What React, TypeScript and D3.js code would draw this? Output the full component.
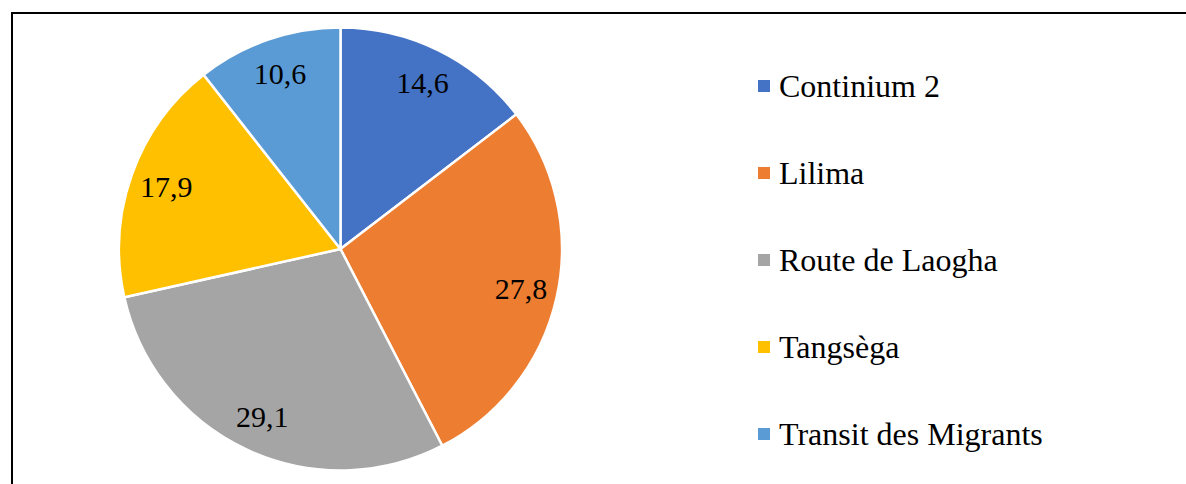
import React, { useEffect, useRef } from "react";
import * as d3 from "d3";

const categories = ["Continium 2", "Lilima", "Route de Laogha", "Tangsèga", "Transit des Migrants"];
const values = [14.6, 27.8, 29.1, 17.9, 10.6];
const labels = ["14,6", "27,8", "29,1", "17,9", "10,6"];
const colors = ["#4472C4", "#ED7D31", "#A5A5A5", "#FFC000", "#5B9BD5"];

const W = 1186;
const H = 484;
const cx = 340.5;
const cy = 249;
const R = 221.5;
const labelR = 185;

export default function App() {
  const ref = useRef<SVGSVGElement>(null);

  useEffect(() => {
    const svg = d3.select(ref.current);
    svg.selectAll("*").remove();
    svg.append("rect").attr("x", 0).attr("y", 0).attr("width", W).attr("height", H).attr("fill", "#fff");
    svg.append("rect").attr("x", 12).attr("y", 13).attr("width", W).attr("height", H)
      .attr("fill", "#fff").attr("stroke", "#000").attr("stroke-width", 2);

    const pie = d3.pie<number>().sort(null).value((d) => d);
    const arcs = pie(values);
    const arcGen = d3.arc<d3.PieArcDatum<number>>().innerRadius(0).outerRadius(R);
    const labelArc = d3.arc<d3.PieArcDatum<number>>().innerRadius(labelR).outerRadius(labelR);

    const g = svg.append("g").attr("transform", `translate(${cx},${cy})`);
    g.selectAll("path").data(arcs).join("path")
      .attr("d", (d) => arcGen(d) || "")
      .attr("fill", (_, i) => colors[i])
      .attr("stroke", "#fff").attr("stroke-width", 2.5).attr("stroke-linejoin", "round");
    g.selectAll("text").data(arcs).join("text")
      .attr("x", (d) => labelArc.centroid(d)[0])
      .attr("y", (d) => labelArc.centroid(d)[1] + 10)
      .attr("text-anchor", "middle")
      .attr("font-family", "Liberation Serif")
      .attr("font-size", 30)
      .attr("fill", "#000")
      .text((_, i) => labels[i]);

    const legendY = d3.scalePoint<string>().domain(categories).range([86, 434]);
    const lg = svg.append("g");
    const items = lg.selectAll("g").data(categories).join("g")
      .attr("transform", (c) => `translate(0,${legendY(c)})`);
    items.append("rect").attr("x", 758).attr("y", -6).attr("width", 12).attr("height", 12)
      .attr("fill", (_, i) => colors[i]);
    items.append("text").attr("x", 779).attr("y", 11)
      .attr("font-family", "Liberation Serif")
      .attr("font-size", 32)
      .attr("fill", "#000")
      .text((c) => c);
  }, []);

  return (
    <svg ref={ref} width={W} height={H} style={{ position: "absolute", left: 0, top: 0 }} />
  );
}
